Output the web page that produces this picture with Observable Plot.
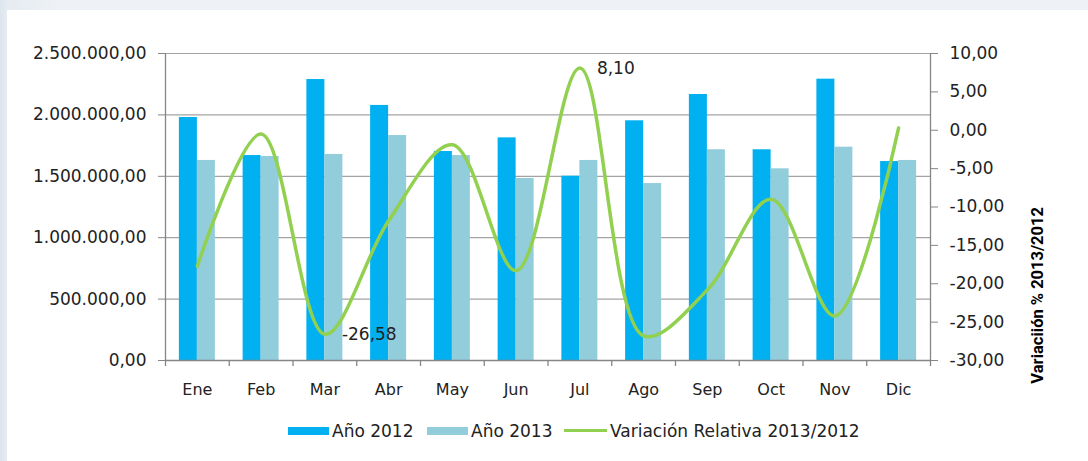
<!DOCTYPE html>
<html><head><meta charset="utf-8">
<script src="https://cdn.jsdelivr.net/npm/d3@7"></script>
<script src="https://cdn.jsdelivr.net/npm/@observablehq/plot@0.6"></script>
<style>
html,body{margin:0;padding:0;}
body{width:1088px;height:461px;overflow:hidden;position:relative;font-family:"DejaVu Sans",sans-serif;
 background:linear-gradient(to right,#dce4ed 0px,#e6ecf2 7px,#eef1f5 60px);}
#panel{position:absolute;left:7px;top:10px;right:0;bottom:0;background:#fff;}
#chart{position:absolute;left:0;top:0;}
.lg{position:absolute;top:420.5px;height:20px;display:flex;align-items:center;font-size:17px;color:#222;white-space:nowrap;}
.sw{position:absolute;}
</style></head>
<body>
<div id="panel"></div>
<div id="chart"></div>
<div id="legend"></div>
<script>
const months = ["Ene","Feb","Mar","Abr","May","Jun","Jul","Ago","Sep","Oct","Nov","Dic"];
const ano2012 = [1979000,1669000,2288000,2077000,1702000,1813000,1501000,1952000,2166000,1716000,2291000,1620000];
const ano2013 = [1629000,1661000,1678000,1832000,1669000,1482000,1629000,1441000,1716000,1561000,1737000,1629000];
const variacion = [-17.7,-0.5,-26.58,-11.8,-1.9,-18.3,8.10,-26.8,-20.8,-9.0,-24.2,0.3];
const leftTicks = [0,500000,1000000,1500000,2000000,2500000];
const rightTicks = [-30,-25,-20,-15,-10,-5,0,5,10];
const labeledMonths = ["Mar","Jul"];
const seriesNames = ["Año 2012","Año 2013","Variación Relativa 2013/2012"];
const rightTitle = "Variaciión % 2013/2012";
const colors = ["#00b0f0","#92cddc","#92d050"];

const loc = d3.formatLocale({decimal:",",thousands:".",grouping:[3],currency:["",""],minus:"-"});
const fmtL = loc.format(",.2f");
const fmtV = loc.format(".2f");
const rMin = -30, rMax = 10, lMax = 2500000;
const toLeft = v => (v - rMin) / (rMax - rMin) * lMax;
const fromLeft = y => y / lMax * (rMax - rMin) + rMin;

const data = months.map((m,i)=>({m, a:ano2012[i], b:ano2013[i], v:variacion[i], vy:toLeft(variacion[i])}));
const halfStep = 765/12/2;
const axisColor = "#868686";

const chart = Plot.plot({
  width:1088, height:400, marginTop:53, marginBottom:40, marginLeft:165, marginRight:158,
  style:{fontFamily:"DejaVu Sans", fontSize:"16px", color:"#222", background:"transparent", overflow:"visible"},
  x:{domain:months, paddingInner:0.4353, paddingOuter:0.21765, round:false, label:null},
  y:{domain:[0,lMax], label:null},
  marks:[
    Plot.gridY(leftTicks.slice(1), {stroke:"#a3a3a3", strokeOpacity:1, strokeWidth:1.2}),
    Plot.barY(data, {x:"m", y:"a", fill:colors[0], insetRight:18}),
    Plot.barY(data, {x:"m", y:"b", fill:colors[1], insetLeft:18}),
    Plot.ruleY([0], {stroke:axisColor, strokeWidth:1.3}),
    Plot.ruleX(["Ene"], {x:d=>d, dx:-halfStep, stroke:axisColor, strokeWidth:1.3}),
    Plot.ruleX(["Dic"], {x:d=>d, dx:halfStep, stroke:axisColor, strokeWidth:1.3}),
    Plot.ruleX(months, {x:d=>d, dx:-halfStep, insetTop:307, insetBottom:-6, stroke:axisColor, strokeWidth:1.3}),
    Plot.ruleX(["Dic"], {x:d=>d, dx:halfStep, insetTop:307, insetBottom:-6, stroke:axisColor, strokeWidth:1.3}),
    Plot.axisY(leftTicks, {anchor:"left", tickFormat:fmtL, tickSize:7, tickPadding:12, stroke:axisColor, fontSize:17, label:null}),
    Plot.axisY(rightTicks.map(toLeft), {anchor:"right", tickFormat:v=>fmtV(fromLeft(v)), tickSize:7, tickPadding:12, stroke:axisColor, fontSize:17, label:null}),
    Plot.axisX({tickSize:0, tickPadding:23, fontSize:16, label:null}),
    Plot.lineY(data, {x:"m", y:"vy", stroke:colors[2], strokeWidth:3.5, curve:"catmull-rom"}),
    Plot.text(data.filter(d=>labeledMonths.includes(d.m)), {x:"m", y:"vy", text:d=>fmtV(d.v), dx:17, textAnchor:"start", fontSize:17, fill:"#222"}),
    Plot.text([rightTitle], {frameAnchor:"right", dx:107, rotate:-90, fontWeight:"bold", fontFamily:"Roboto", fontSize:16.5, fill:"#000"})
  ]
});
document.getElementById("chart").appendChild(chart);

// legend
const lg = document.getElementById("legend");
const items = [
  {sw:{left:288,width:41,height:8,color:colors[0]}, text:seriesNames[0], tx:332},
  {sw:{left:427,width:41,height:8,color:colors[1]}, text:seriesNames[1], tx:471},
  {sw:{left:564,width:43,height:3.5,color:colors[2]}, text:seriesNames[2], tx:610}
];
items.forEach(it=>{
  const s = document.createElement("div");
  s.className = "sw";
  s.style.left = it.sw.left+"px";
  s.style.width = it.sw.width+"px";
  s.style.height = it.sw.height+"px";
  s.style.top = (430.5 - it.sw.height/2)+"px";
  s.style.background = it.sw.color;
  lg.appendChild(s);
  const t = document.createElement("div");
  t.className = "lg";
  t.style.left = it.tx+"px";
  t.textContent = it.text;
  lg.appendChild(t);
});
</script>
</body></html>
